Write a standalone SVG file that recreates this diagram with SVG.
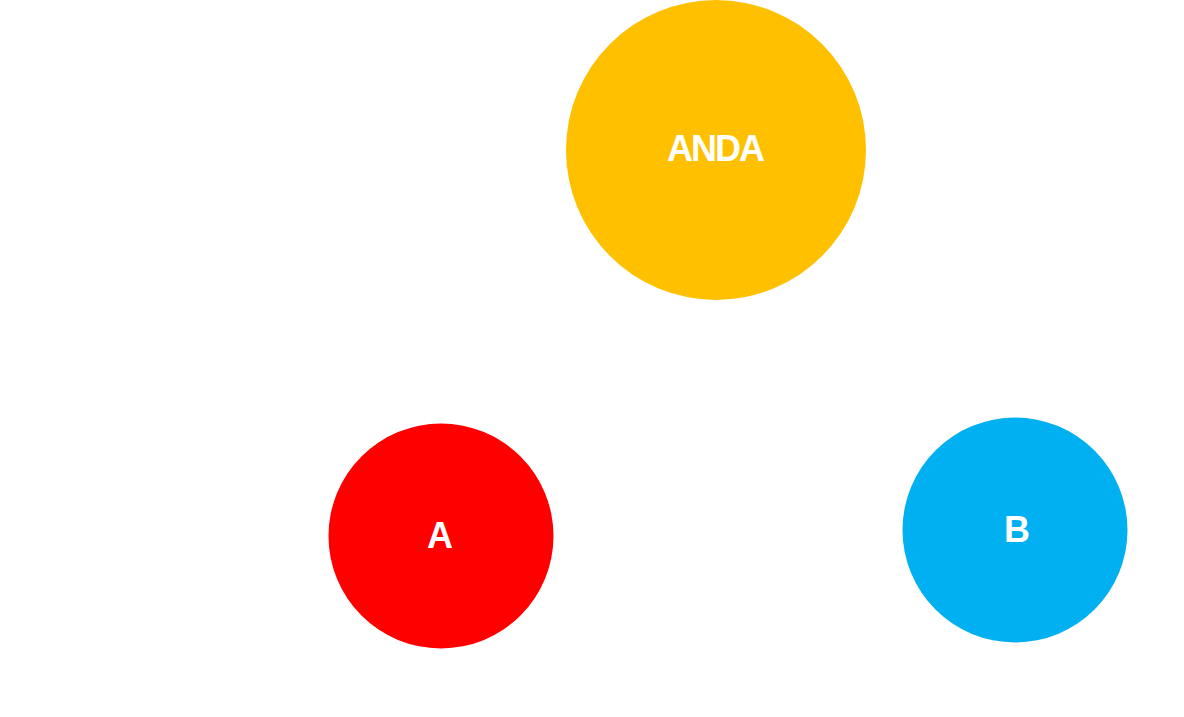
<svg xmlns="http://www.w3.org/2000/svg" width="1184" height="717" viewBox="0 0 1184 717">
<style>
.lbl{font-family:"Liberation Sans",Arial,sans-serif;font-weight:bold;font-size:36px;fill:#ffffff;text-anchor:middle;dominant-baseline:central}
</style>
<rect width="1184" height="717" fill="#ffffff"/>
<g id="connectors"></g>
<g id="node-anda">
<circle cx="716" cy="150" r="150" fill="#FFC000"/>
<text class="lbl" x="715" y="148" letter-spacing="-2">ANDA</text>
</g>
<g id="node-a">
<circle cx="441" cy="536" r="112.5" fill="#FF0000"/>
<text class="lbl" x="440" y="535">A</text>
</g>
<g id="node-b">
<circle cx="1015" cy="530" r="112.5" fill="#00B0F0"/>
<text class="lbl" x="1017" y="529">B</text>
</g>
</svg>
